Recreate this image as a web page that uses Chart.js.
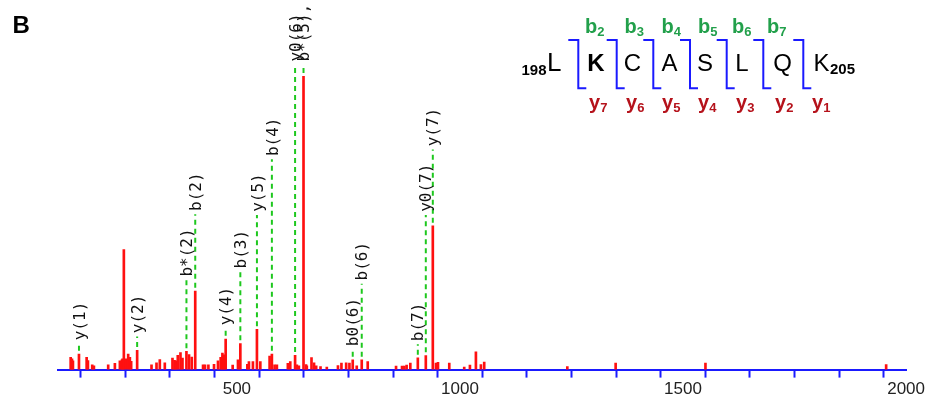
<!DOCTYPE html>
<html>
<head>
<meta charset="utf-8">
<script src="https://cdn.jsdelivr.net/npm/chart.js@4.4.1/dist/chart.umd.min.js"></script>
<style>
  html, body { margin: 0; padding: 0; background: #fff; }
  #wrap { position: relative; width: 927px; height: 402px; overflow: hidden; }
  #c { position: absolute; left: 0; top: 0; }
  #ov { position: absolute; left: 0; top: 0; pointer-events: none; }
</style>
</head>
<body>
<div id="wrap">
<canvas id="c" width="927" height="402"></canvas>
<svg id="ov" width="927" height="402" xmlns="http://www.w3.org/2000/svg" font-family="Liberation Sans, Arial, sans-serif">
  <text x="12.5" y="33" font-size="24" font-weight="bold" fill="#000">B</text>
  <!-- peptide sequence -->
  <text x="521.5" y="75" font-size="15" font-weight="bold" fill="#000">198</text>
  <text x="547" y="71" font-size="26" fill="#000">L</text>
  <text x="596" y="71" font-size="24" font-weight="bold" fill="#000" text-anchor="middle">K</text>
  <text x="632.5" y="71" font-size="24" fill="#000" text-anchor="middle">C</text>
  <text x="669.5" y="71" font-size="24" fill="#000" text-anchor="middle">A</text>
  <text x="705" y="71" font-size="24" fill="#000" text-anchor="middle">S</text>
  <text x="742" y="71" font-size="24" fill="#000" text-anchor="middle">L</text>
  <text x="782.5" y="71" font-size="24" fill="#000" text-anchor="middle">Q</text>
  <text x="821.5" y="71" font-size="24" fill="#000" text-anchor="middle">K</text>
  <text x="830" y="74" font-size="15" font-weight="bold" fill="#000">205</text>
  <g id="brackets" stroke="#1a1aff" stroke-width="2" fill="none"></g>
  <g id="bions" fill="#22a04b" font-weight="bold"></g>
  <g id="yions" fill="#b5121b" font-weight="bold"></g>
</svg>
</div>
<script>
// ---- spectrum data (m/z, relative intensity %) ----
const peakMz = [127.5,130.4,132.6,146.1,163.3,166.2,175.8,179.6,211.6,226.6,237.8,242.3,243.8,246.7,251.2,256.4,260.2,263.1,276.5,
  308.7,319.9,327.3,338.5,355.7,360.2,363.1,367.6,373.6,378.1,387.0,392.8,398.9,406.7,424.2,428.6,436.2,448.8,457.7,463.7,467.6,471.1,474.9,
  490.6,502.5,507.8,523.5,527.1,536.0,545.0,552.6,573.4,578.5,584.6,589.7,614.3,619.7,630.5,634.5,639.0,649.4,655.0,656.8,667.3,673.0,677.8,687.5,
  701.6,726.6,734.4,745.0,752.3,759.7,768.7,779.9,793.3,856.8,870.2,875.4,880.5,888.8,905.6,923.5,939.2,946.3,950.8,976.1,1009.6,1022.4,1035.8,
  1047.0,1054.4,1240.7,1349.0,1550.3,1955.3];
const peakIntensity = [4.2,3.7,3.0,5.3,4.2,3.1,1.6,1.3,1.6,2.1,3.0,3.3,3.7,40.9,3.7,5.3,4.2,2.8,6.6,
  1.6,2.3,3.4,2.3,3.9,3.2,3.0,4.9,5.8,3.9,6.2,5.1,4.3,26.8,1.6,1.6,1.6,1.8,3.0,4.2,5.6,5.0,10.4,
  1.5,3.3,8.9,1.8,2.7,2.7,13.7,2.7,4.6,5.3,1.6,1.6,2.1,2.7,4.9,1.6,1.3,100,1.7,1.3,4.1,2.3,1.3,1.0,
  0.9,1.4,2.2,2.3,2.2,3.3,1.3,3.3,2.7,1.2,1.2,1.2,1.5,2.2,4.0,4.8,49.0,2.2,2.5,2.2,0.9,1.5,6.1,
  1.7,2.6,1.0,2.2,2.2,1.7];

// ---- fragment ion annotations ----
const ionMz = [146.1,276.5,387.0,406.7,474.9,507.8,545.0,578.5,630.5,649.4,759.7,779.9,905.6,923.5,939.2];
const ionLabels = ['y(1)','y(2)','b*(2)','b(2)','y(4)','b(3)','y(5)','b(4)','y0(6)','b*(5), b0(5), y(6)','b0(6)','b(6)','b(7)','y0(7)','y(7)'];
const ionLabelLevel = [10.0,12.4,31.7,54.1,15.1,34.5,53.8,72.8,105,105,8.0,30.4,9.7,53.8,76.1];

// ---- x axis ----
const xMin = 100, xMax = 2000, xStep = 100, xLabelEvery = 500;

// ---- sequence inset ----
const bIons = ['2','3','4','5','6','7'];
const yIons = ['7','6','5','4','3','2','1'];

function nearestPeak(m) {
  let best = 0, bd = 4;
  peakMz.forEach((p, i) => { const d = Math.abs(p - m); if (d < bd) { bd = d; best = peakIntensity[i]; } });
  return best;
}

const ionLines = [];
ionMz.forEach((m, i) => {
  ionLines.push({ x: m, y: nearestPeak(m) + 1.1 });
  ionLines.push({ x: m, y: ionLabelLevel[i] - 1.1 });
  ionLines.push({ x: m, y: null });
});

const ionLabelPlugin = {
  id: 'ionLabels',
  afterDatasetsDraw(chart) {
    const { ctx, scales: { x, y } } = chart;
    ctx.save();
    ctx.font = '16px "DejaVu Sans Mono", monospace';
    ctx.fillStyle = '#111';
    ctx.textBaseline = 'middle';
    ctx.textAlign = 'left';
    ionMz.forEach((m, i) => {
      const px = x.getPixelForValue(m) + 1.5;
      const py = y.getPixelForValue(ionLabelLevel[i]);
      ctx.save();
      ctx.translate(px, py);
      ctx.rotate(-Math.PI / 2);
      ctx.fillText(ionLabels[i], 0, 0);
      ctx.restore();
    });
    ctx.restore();
  }
};

new Chart(document.getElementById('c'), {
  type: 'bar',
  data: {
    datasets: [
      {
        type: 'line',
        data: ionLines,
        borderColor: '#1ec81e',
        borderWidth: 2,
        borderDash: [5, 4],
        pointRadius: 0,
        spanGaps: false,
        fill: false,
        order: 2
      },
      {
        type: 'bar',
        data: peakMz.map((m, i) => ({ x: m, y: peakIntensity[i] })),
        backgroundColor: '#ff1010',
        borderWidth: 0,
        barThickness: 2,
        order: 1
      }
    ]
  },
  options: {
    responsive: false,
    animation: false,
    devicePixelRatio: 1,
    layout: { padding: { left: 58.4, right: 19.3, top: 0, bottom: 0 } },
    plugins: { legend: { display: false }, tooltip: { enabled: false } },
    scales: {
      x: {
        type: 'linear',
        min: xMin,
        max: xMax,
        offset: false,
        grid: { display: true, drawOnChartArea: false, drawTicks: true, tickLength: 8, tickColor: '#1a1aff', tickWidth: 2 },
        border: { display: true, color: '#1a1aff', width: 2 },
        ticks: {
          stepSize: xStep,
          autoSkip: false,
          maxRotation: 0,
          padding: 2,
          color: '#222',
          font: { family: 'Liberation Sans', size: 17, lineHeight: 1.2 },
          callback: (v) => (v % xLabelEvery === 0 ? String(v) : '')
        }
      },
      y: {
        display: false,
        min: 0,
        max: 126
      }
    }
  },
  plugins: [ionLabelPlugin]
});

// ---- inset brackets and ion labels ----
const NS = 'http://www.w3.org/2000/svg';
const bracketX = [578.3, 616.7, 653.3, 690, 726.7, 763.3, 803.3];
const br = document.getElementById('brackets');
bracketX.forEach(x => {
  const p = document.createElementNS(NS, 'path');
  p.setAttribute('d', `M${x - 10},40 H${x} V88.3 H${x + 8}`);
  br.appendChild(p);
});
const bStart = [585, 624.5, 661.5, 698, 732, 767];
const bg = document.getElementById('bions');
bIons.forEach((n, i) => {
  const t = document.createElementNS(NS, 'text');
  t.setAttribute('x', bStart[i]); t.setAttribute('y', 33);
  t.setAttribute('font-size', 20);
  t.textContent = 'b';
  const s = document.createElementNS(NS, 'tspan');
  s.setAttribute('font-size', 13); s.setAttribute('dy', 3);
  s.textContent = n;
  t.appendChild(s);
  bg.appendChild(t);
});
const yStart = [589, 626, 662, 698, 736, 775, 812];
const yg = document.getElementById('yions');
yIons.forEach((n, i) => {
  const t = document.createElementNS(NS, 'text');
  t.setAttribute('x', yStart[i]); t.setAttribute('y', 109);
  t.setAttribute('font-size', 20);
  t.textContent = 'y';
  const s = document.createElementNS(NS, 'tspan');
  s.setAttribute('font-size', 13); s.setAttribute('dy', 3);
  s.textContent = n;
  t.appendChild(s);
  yg.appendChild(t);
});
</script>
</body>
</html>
